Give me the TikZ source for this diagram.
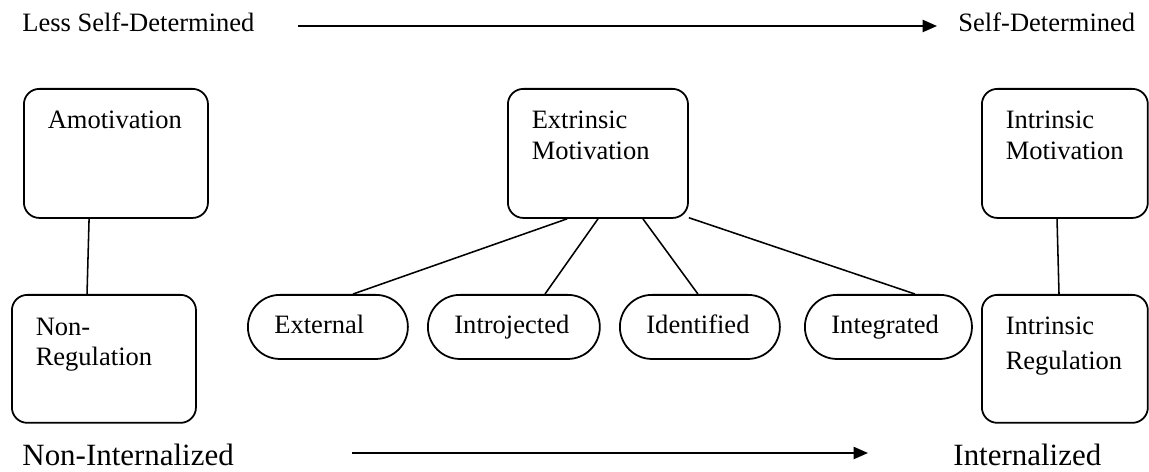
\documentclass[tikz,border=0pt]{standalone}
\usepackage{fontspec}
\setmainfont{Liberation Serif}
\usepackage{tikz}
\usetikzlibrary{arrows.meta, positioning, calc}

\tikzset{
  bigbox/.style={draw, line width=0.8pt, rounded corners=7pt, anchor=north west,
    inner sep=0pt, minimum height=58.4pt},
  pill/.style={draw, line width=0.8pt, rounded corners=14.5pt, anchor=north west,
    inner xsep=12pt, inner ysep=0pt, minimum height=29pt, align=left,
    text height=8.5pt, text depth=3pt, font=\fontsize{12}{14}\selectfont},
  boxtext/.style={anchor=north west, inner sep=0pt, align=left,
    font=\fontsize{12}{14}\selectfont},
  axistext/.style={anchor=base west, inner sep=0pt},
  link/.style={line width=0.7pt},
  axis/.style={line width=0.8pt, -{Triangle[length=6.5pt,width=5.5pt]}}
}

\begin{document}
\begin{tikzpicture}[x=0.4525pt, y=-0.4525pt]
  \useasboundingbox (0,0) rectangle (1149,472);

  % Top scale
  \node[axistext, font=\fontsize{12}{14}\selectfont] (less) at (22,32) {Less Self-Determined};
  \node[axistext, font=\fontsize{12}{14}\selectfont] (self) at (958,32) {Self-Determined};
  \coordinate (topL) at (298,26);
  \coordinate (topR) at (937,26);
  \draw[axis] (topL) -- (topR);

  % Upper row of boxes
  \node[bigbox, minimum width=83.3pt] (amot) at (23,88) {};
  \node[bigbox, minimum width=81.5pt] (extr) at (507,88) {};
  \node[bigbox, minimum width=75.1pt] (intrm) at (981,88) {};
  \node[boxtext] (amot-t) at ([xshift=11pt,yshift=-10pt]amot.north west) {Amotivation};
  \node[boxtext] (extr-t) at ([xshift=11pt,yshift=-10pt]extr.north west) {Extrinsic\\Motivation};
  \node[boxtext] (intrm-t) at ([xshift=11pt,yshift=-10pt]intrm.north west) {Intrinsic\\Motivation};

  % Lower row
  \node[bigbox, minimum width=83.3pt, minimum height=57.9pt] (nonreg) at (11,294) {};
  \node[bigbox, minimum width=75.1pt, minimum height=57.9pt] (intrr) at (981,294) {};
  \node[boxtext] (nonreg-t) at ([xshift=11pt,yshift=-10.5pt]nonreg.north west) {Non-\\Regulation};
  \node[boxtext] (intrr-t) at ([xshift=11pt,yshift=-10pt]intrr.north west) {Intrinsic\\[2pt]Regulation};

  % Types of extrinsic regulation
  \node[pill, text width=48.4pt] (ext) at (247,294) {External};
  \node[pill, text width=53.8pt] (intro) at (427,294) {Introjected};
  \node[pill, text width=48.4pt] (ident) at (619,294) {Identified};
  \node[pill, text width=51.6pt] (integ) at (804,294) {Integrated};

  % Connectors
  \draw[link] ([xshift=29.9pt]amot.south west) -- ([xshift=34.4pt]nonreg.north west);
  \draw[link] ([xshift=34.4pt]intrm.south west) -- ([xshift=35.3pt]intrr.north west);
  \draw[link] ([xshift=27.2pt]extr.south west) -- ([xshift=48pt]ext.north west);
  \draw[link] ([xshift=41.2pt]extr.south west) -- ([xshift=53.4pt]intro.north west);
  \draw[link] ([xshift=61.5pt]extr.south west) -- ([xshift=35.7pt]ident.north west);
  \draw[link] ([yshift=0.5pt]extr.south east) -- ([xshift=50.2pt]integ.north west);

  % Bottom scale
  \node[axistext, font=\fontsize{14}{17}\selectfont] (nonint) at (22,465) {Non-Internalized};
  \node[axistext, font=\fontsize{14}{17}\selectfont] (inter) at (953,465) {Internalized};
  \coordinate (botL) at (352,453);
  \coordinate (botR) at (868,453);
  \draw[axis] (botL) -- (botR);
\end{tikzpicture}
\end{document}
